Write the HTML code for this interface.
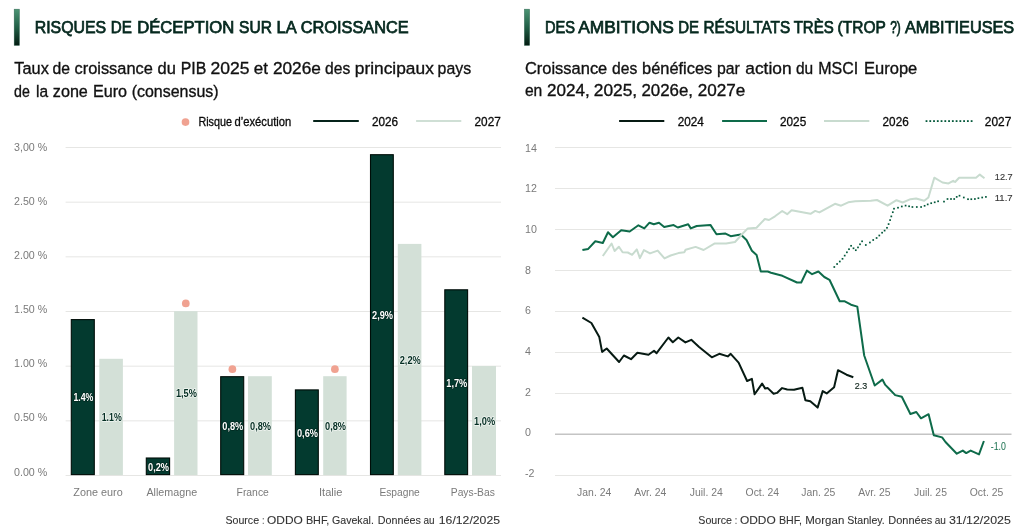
<!DOCTYPE html><html><head><meta charset="utf-8"><style>html,body{margin:0;padding:0;background:#fff;width:1024px;height:530px;overflow:hidden}svg{display:block;will-change:transform}</style></head><body><svg width="1024" height="530" viewBox="0 0 1024 530" font-family="Liberation Sans, sans-serif">
<defs><linearGradient id="g" x1="0" y1="0" x2="0" y2="1"><stop offset="0" stop-color="#4b9474"/><stop offset="0.5" stop-color="#215f46"/><stop offset="1" stop-color="#031b11"/></linearGradient></defs>
<rect width="1024" height="530" fill="#fff"/>
<rect x="14.2" y="9.2" width="5.2" height="36.2" fill="url(#g)" stroke="#0d4a34" stroke-opacity="0.6" stroke-width="0.6"/>
<rect x="524.4" y="9.2" width="5.2" height="36.2" fill="url(#g)" stroke="#0d4a34" stroke-opacity="0.6" stroke-width="0.6"/>
<text x="34.70" y="33.30" font-size="17" fill="#06291f" textLength="71.42" lengthAdjust="spacingAndGlyphs" stroke="#06291f" stroke-width="0.75">RISQUES</text>
<text x="110.80" y="33.30" font-size="17" fill="#06291f" textLength="21.11" lengthAdjust="spacingAndGlyphs" stroke="#06291f" stroke-width="0.75">DE</text>
<text x="137.20" y="33.30" font-size="17" fill="#06291f" textLength="97.18" lengthAdjust="spacingAndGlyphs" stroke="#06291f" stroke-width="0.75">DÉCEPTION</text>
<text x="239.10" y="33.30" font-size="17" fill="#06291f" textLength="32.79" lengthAdjust="spacingAndGlyphs" stroke="#06291f" stroke-width="0.75">SUR</text>
<text x="276.60" y="33.30" font-size="17" fill="#06291f" textLength="20.09" lengthAdjust="spacingAndGlyphs" stroke="#06291f" stroke-width="0.75">LA</text>
<text x="300.70" y="33.30" font-size="17" fill="#06291f" textLength="108.06" lengthAdjust="spacingAndGlyphs" stroke="#06291f" stroke-width="0.75">CROISSANCE</text>
<text x="544.90" y="33.30" font-size="17" fill="#06291f" textLength="30.10" lengthAdjust="spacingAndGlyphs" stroke="#06291f" stroke-width="0.75">DES</text>
<text x="578.20" y="33.30" font-size="17" fill="#06291f" textLength="95.61" lengthAdjust="spacingAndGlyphs" stroke="#06291f" stroke-width="0.75">AMBITIONS</text>
<text x="678.20" y="33.30" font-size="17" fill="#06291f" textLength="20.81" lengthAdjust="spacingAndGlyphs" stroke="#06291f" stroke-width="0.75">DE</text>
<text x="703.40" y="33.30" font-size="17" fill="#06291f" textLength="86.80" lengthAdjust="spacingAndGlyphs" stroke="#06291f" stroke-width="0.75">RÉSULTATS</text>
<text x="793.70" y="33.30" font-size="17" fill="#06291f" textLength="40.09" lengthAdjust="spacingAndGlyphs" stroke="#06291f" stroke-width="0.75">TRÈS</text>
<text x="837.60" y="33.30" font-size="17" fill="#06291f" textLength="48.19" lengthAdjust="spacingAndGlyphs" stroke="#06291f" stroke-width="0.75">(TROP</text>
<text x="890.20" y="33.30" font-size="17" fill="#06291f" textLength="10.61" lengthAdjust="spacingAndGlyphs" stroke="#06291f" stroke-width="0.75">?)</text>
<text x="904.90" y="33.30" font-size="17" fill="#06291f" textLength="109.30" lengthAdjust="spacingAndGlyphs" stroke="#06291f" stroke-width="0.75">AMBITIEUSES</text>
<text x="14.30" y="73.75" font-size="17.4" fill="#111" textLength="34.50" lengthAdjust="spacingAndGlyphs" stroke="#111" stroke-width="0.35">Taux</text>
<text x="52.50" y="73.75" font-size="17.4" fill="#111" textLength="17.50" lengthAdjust="spacingAndGlyphs" stroke="#111" stroke-width="0.35">de</text>
<text x="74.50" y="73.75" font-size="17.4" fill="#111" textLength="78.32" lengthAdjust="spacingAndGlyphs" stroke="#111" stroke-width="0.35">croissance</text>
<text x="157.50" y="73.75" font-size="17.4" fill="#111" textLength="18.30" lengthAdjust="spacingAndGlyphs" stroke="#111" stroke-width="0.35">du</text>
<text x="180.70" y="73.75" font-size="17.4" fill="#111" textLength="25.60" lengthAdjust="spacingAndGlyphs" stroke="#111" stroke-width="0.35">PIB</text>
<text x="210.40" y="73.75" font-size="17.4" fill="#111" textLength="39.01" lengthAdjust="spacingAndGlyphs" stroke="#111" stroke-width="0.35">2025</text>
<text x="253.80" y="73.75" font-size="17.4" fill="#111" textLength="14.21" lengthAdjust="spacingAndGlyphs" stroke="#111" stroke-width="0.35">et</text>
<text x="272.90" y="73.75" font-size="17.4" fill="#111" textLength="47.99" lengthAdjust="spacingAndGlyphs" stroke="#111" stroke-width="0.35">2026e</text>
<text x="325.00" y="73.75" font-size="17.4" fill="#111" textLength="25.20" lengthAdjust="spacingAndGlyphs" stroke="#111" stroke-width="0.35">des</text>
<text x="354.80" y="73.75" font-size="17.4" fill="#111" textLength="79.01" lengthAdjust="spacingAndGlyphs" stroke="#111" stroke-width="0.35">principaux</text>
<text x="437.60" y="73.75" font-size="17.4" fill="#111" textLength="33.50" lengthAdjust="spacingAndGlyphs" stroke="#111" stroke-width="0.35">pays</text>
<text x="14.10" y="96.50" font-size="17.4" fill="#111" textLength="15.80" lengthAdjust="spacingAndGlyphs" stroke="#111" stroke-width="0.35">de</text>
<text x="36.00" y="96.50" font-size="17.4" fill="#111" textLength="12.09" lengthAdjust="spacingAndGlyphs" stroke="#111" stroke-width="0.35">la</text>
<text x="52.80" y="96.50" font-size="17.4" fill="#111" textLength="35.08" lengthAdjust="spacingAndGlyphs" stroke="#111" stroke-width="0.35">zone</text>
<text x="93.00" y="96.50" font-size="17.4" fill="#111" textLength="34.10" lengthAdjust="spacingAndGlyphs" stroke="#111" stroke-width="0.35">Euro</text>
<text x="131.70" y="96.50" font-size="17.4" fill="#111" textLength="86.88" lengthAdjust="spacingAndGlyphs" stroke="#111" stroke-width="0.35">(consensus)</text>
<text x="524.90" y="73.50" font-size="17.4" fill="#111" textLength="82.39" lengthAdjust="spacingAndGlyphs" stroke="#111" stroke-width="0.35">Croissance</text>
<text x="612.00" y="73.50" font-size="17.4" fill="#111" textLength="25.20" lengthAdjust="spacingAndGlyphs" stroke="#111" stroke-width="0.35">des</text>
<text x="642.00" y="73.50" font-size="17.4" fill="#111" textLength="70.29" lengthAdjust="spacingAndGlyphs" stroke="#111" stroke-width="0.35">bénéfices</text>
<text x="717.00" y="73.50" font-size="17.4" fill="#111" textLength="22.90" lengthAdjust="spacingAndGlyphs" stroke="#111" stroke-width="0.35">par</text>
<text x="745.30" y="73.50" font-size="17.4" fill="#111" textLength="46.28" lengthAdjust="spacingAndGlyphs" stroke="#111" stroke-width="0.35">action</text>
<text x="796.00" y="73.50" font-size="17.4" fill="#111" textLength="17.20" lengthAdjust="spacingAndGlyphs" stroke="#111" stroke-width="0.35">du</text>
<text x="818.30" y="73.50" font-size="17.4" fill="#111" textLength="39.90" lengthAdjust="spacingAndGlyphs" stroke="#111" stroke-width="0.35">MSCI</text>
<text x="864.00" y="73.50" font-size="17.4" fill="#111" textLength="53.31" lengthAdjust="spacingAndGlyphs" stroke="#111" stroke-width="0.35">Europe</text>
<text x="524.90" y="96.30" font-size="17.4" fill="#111" textLength="17.40" lengthAdjust="spacingAndGlyphs" stroke="#111" stroke-width="0.35">en</text>
<text x="547.00" y="96.30" font-size="17.4" fill="#111" textLength="42.69" lengthAdjust="spacingAndGlyphs" stroke="#111" stroke-width="0.35">2024,</text>
<text x="593.80" y="96.30" font-size="17.4" fill="#111" textLength="43.39" lengthAdjust="spacingAndGlyphs" stroke="#111" stroke-width="0.35">2025,</text>
<text x="641.40" y="96.30" font-size="17.4" fill="#111" textLength="51.62" lengthAdjust="spacingAndGlyphs" stroke="#111" stroke-width="0.35">2026e,</text>
<text x="697.70" y="96.30" font-size="17.4" fill="#111" textLength="47.59" lengthAdjust="spacingAndGlyphs" stroke="#111" stroke-width="0.35">2027e</text>
<circle cx="185.5" cy="122.1" r="3.85" fill="#f0a291"/>
<text x="198.40" y="126.10" font-size="12.2" fill="#0a0a0a" textLength="33.48" lengthAdjust="spacingAndGlyphs" stroke="#0a0a0a" stroke-width="0.3">Risque</text>
<text x="234.50" y="126.10" font-size="12.2" fill="#0a0a0a" textLength="56.82" lengthAdjust="spacingAndGlyphs" stroke="#0a0a0a" stroke-width="0.3">d’exécution</text>
<line x1="313.2" y1="120.9" x2="358.8" y2="120.9" stroke="#05231a" stroke-width="2"/>
<text x="371.90" y="126.10" font-size="12.2" fill="#0a0a0a" textLength="26.19" lengthAdjust="spacingAndGlyphs" stroke="#0a0a0a" stroke-width="0.3">2026</text>
<line x1="416.1" y1="120.9" x2="461.3" y2="120.9" stroke="#cfdfd5" stroke-width="2"/>
<text x="474.50" y="126.10" font-size="12.2" fill="#0a0a0a" textLength="26.29" lengthAdjust="spacingAndGlyphs" stroke="#0a0a0a" stroke-width="0.3">2027</text>
<line x1="619.1" y1="120.9" x2="664.3" y2="120.9" stroke="#071a13" stroke-width="2"/>
<text x="677.80" y="126.10" font-size="12.2" fill="#0a0a0a" textLength="26.09" lengthAdjust="spacingAndGlyphs" stroke="#0a0a0a" stroke-width="0.3">2024</text>
<line x1="722.1" y1="120.9" x2="767" y2="120.9" stroke="#0e6b4a" stroke-width="2"/>
<text x="780.00" y="126.10" font-size="12.2" fill="#0a0a0a" textLength="26.19" lengthAdjust="spacingAndGlyphs" stroke="#0a0a0a" stroke-width="0.3">2025</text>
<line x1="824" y1="120.9" x2="869.3" y2="120.9" stroke="#c8dbcf" stroke-width="2"/>
<text x="882.60" y="126.10" font-size="12.2" fill="#0a0a0a" textLength="26.09" lengthAdjust="spacingAndGlyphs" stroke="#0a0a0a" stroke-width="0.3">2026</text>
<rect x="925.60" y="120.20" width="1.8" height="1.8" fill="#03583a"/>
<rect x="929.36" y="120.20" width="1.8" height="1.8" fill="#03583a"/>
<rect x="933.12" y="120.20" width="1.8" height="1.8" fill="#03583a"/>
<rect x="936.88" y="120.20" width="1.8" height="1.8" fill="#03583a"/>
<rect x="940.64" y="120.20" width="1.8" height="1.8" fill="#03583a"/>
<rect x="944.40" y="120.20" width="1.8" height="1.8" fill="#03583a"/>
<rect x="948.16" y="120.20" width="1.8" height="1.8" fill="#03583a"/>
<rect x="951.92" y="120.20" width="1.8" height="1.8" fill="#03583a"/>
<rect x="955.68" y="120.20" width="1.8" height="1.8" fill="#03583a"/>
<rect x="959.44" y="120.20" width="1.8" height="1.8" fill="#03583a"/>
<rect x="963.20" y="120.20" width="1.8" height="1.8" fill="#03583a"/>
<rect x="966.96" y="120.20" width="1.8" height="1.8" fill="#03583a"/>
<rect x="970.72" y="120.20" width="1.8" height="1.8" fill="#03583a"/>
<text x="984.80" y="126.10" font-size="12.2" fill="#0a0a0a" textLength="26.49" lengthAdjust="spacingAndGlyphs" stroke="#0a0a0a" stroke-width="0.3">2027</text>
<line x1="65.6" y1="147.50" x2="501" y2="147.50" stroke="#e6e6e4" stroke-width="1"/>
<text x="14.00" y="150.90" font-size="11.6" fill="#7a7a7a" textLength="33.21" lengthAdjust="spacingAndGlyphs">3,00 %</text>
<line x1="65.6" y1="202.17" x2="501" y2="202.17" stroke="#e6e6e4" stroke-width="1"/>
<text x="14.00" y="205.00" font-size="11.6" fill="#7a7a7a" textLength="33.21" lengthAdjust="spacingAndGlyphs">2.50 %</text>
<line x1="65.6" y1="256.84" x2="501" y2="256.84" stroke="#e6e6e4" stroke-width="1"/>
<text x="14.00" y="259.10" font-size="11.6" fill="#7a7a7a" textLength="33.21" lengthAdjust="spacingAndGlyphs">2.00 %</text>
<line x1="65.6" y1="311.51" x2="501" y2="311.51" stroke="#e6e6e4" stroke-width="1"/>
<text x="14.00" y="313.20" font-size="11.6" fill="#7a7a7a" textLength="33.21" lengthAdjust="spacingAndGlyphs">1.50 %</text>
<line x1="65.6" y1="366.18" x2="501" y2="366.18" stroke="#e6e6e4" stroke-width="1"/>
<text x="14.00" y="367.30" font-size="11.6" fill="#7a7a7a" textLength="33.21" lengthAdjust="spacingAndGlyphs">1.00 %</text>
<line x1="65.6" y1="420.85" x2="501" y2="420.85" stroke="#e6e6e4" stroke-width="1"/>
<text x="14.00" y="421.40" font-size="11.6" fill="#7a7a7a" textLength="33.21" lengthAdjust="spacingAndGlyphs">0.50 %</text>
<line x1="65.6" y1="475.52" x2="501" y2="475.52" stroke="#e6e6e4" stroke-width="1"/>
<text x="14.00" y="475.50" font-size="11.6" fill="#7a7a7a" textLength="33.21" lengthAdjust="spacingAndGlyphs">0.00 %</text>
<rect x="71.3" y="319.6" width="23.0" height="155.0" fill="#033a2f" stroke="#000d08" stroke-width="1.1"/>
<rect x="99.3" y="358.8" width="23.60000000000001" height="116.30000000000001" fill="#d3e0d7"/>
<rect x="146.3" y="458.0" width="23.299999999999983" height="16.600000000000023" fill="#033a2f" stroke="#000d08" stroke-width="1.1"/>
<rect x="174.1" y="311.2" width="23.400000000000006" height="163.90000000000003" fill="#d3e0d7"/>
<rect x="220.7" y="376.7" width="23.0" height="97.90000000000003" fill="#033a2f" stroke="#000d08" stroke-width="1.1"/>
<rect x="248" y="376.2" width="23.80000000000001" height="98.90000000000003" fill="#d3e0d7"/>
<rect x="295.4" y="389.9" width="22.900000000000034" height="84.70000000000005" fill="#033a2f" stroke="#000d08" stroke-width="1.1"/>
<rect x="323.2" y="376.2" width="23.400000000000034" height="98.90000000000003" fill="#d3e0d7"/>
<rect x="370.5" y="154.7" width="22.80000000000001" height="319.90000000000003" fill="#033a2f" stroke="#000d08" stroke-width="1.1"/>
<rect x="397.8" y="243.9" width="23.599999999999966" height="231.20000000000002" fill="#d3e0d7"/>
<rect x="444.8" y="289.8" width="22.80000000000001" height="184.8" fill="#033a2f" stroke="#000d08" stroke-width="1.1"/>
<rect x="472" y="366" width="24" height="109.10000000000002" fill="#d3e0d7"/>
<text stroke="#02281f" stroke-width="1.5" paint-order="stroke" stroke-linejoin="round" x="73.40" y="401.40" font-size="10.1" font-weight="bold" fill="#ffffff" textLength="20.02" lengthAdjust="spacingAndGlyphs">1.4%</text>
<text stroke="#f2f6f3" stroke-width="1.5" paint-order="stroke" stroke-linejoin="round" x="101.70" y="421.25" font-size="10.1" font-weight="bold" fill="#032e22" textLength="20.02" lengthAdjust="spacingAndGlyphs">1.1%</text>
<text stroke="#02281f" stroke-width="1.5" paint-order="stroke" stroke-linejoin="round" x="148.05" y="470.60" font-size="10.1" font-weight="bold" fill="#ffffff" textLength="21.02" lengthAdjust="spacingAndGlyphs">0,2%</text>
<text stroke="#f2f6f3" stroke-width="1.5" paint-order="stroke" stroke-linejoin="round" x="175.90" y="397.45" font-size="10.1" font-weight="bold" fill="#032e22" textLength="21.02" lengthAdjust="spacingAndGlyphs">1,5%</text>
<text stroke="#02281f" stroke-width="1.5" paint-order="stroke" stroke-linejoin="round" x="222.30" y="429.95" font-size="10.1" font-weight="bold" fill="#ffffff" textLength="21.02" lengthAdjust="spacingAndGlyphs">0,8%</text>
<text stroke="#f2f6f3" stroke-width="1.5" paint-order="stroke" stroke-linejoin="round" x="250.00" y="429.95" font-size="10.1" font-weight="bold" fill="#032e22" textLength="21.02" lengthAdjust="spacingAndGlyphs">0,8%</text>
<text stroke="#02281f" stroke-width="1.5" paint-order="stroke" stroke-linejoin="round" x="296.95" y="436.55" font-size="10.1" font-weight="bold" fill="#ffffff" textLength="21.02" lengthAdjust="spacingAndGlyphs">0,6%</text>
<text stroke="#f2f6f3" stroke-width="1.5" paint-order="stroke" stroke-linejoin="round" x="325.00" y="429.95" font-size="10.1" font-weight="bold" fill="#032e22" textLength="21.02" lengthAdjust="spacingAndGlyphs">0,8%</text>
<text stroke="#02281f" stroke-width="1.5" paint-order="stroke" stroke-linejoin="round" x="372.00" y="318.95" font-size="10.1" font-weight="bold" fill="#ffffff" textLength="21.02" lengthAdjust="spacingAndGlyphs">2,9%</text>
<text stroke="#f2f6f3" stroke-width="1.5" paint-order="stroke" stroke-linejoin="round" x="399.70" y="363.80" font-size="10.1" font-weight="bold" fill="#032e22" textLength="21.02" lengthAdjust="spacingAndGlyphs">2,2%</text>
<text stroke="#02281f" stroke-width="1.5" paint-order="stroke" stroke-linejoin="round" x="446.30" y="386.50" font-size="10.1" font-weight="bold" fill="#ffffff" textLength="21.02" lengthAdjust="spacingAndGlyphs">1,7%</text>
<text stroke="#f2f6f3" stroke-width="1.5" paint-order="stroke" stroke-linejoin="round" x="474.10" y="424.85" font-size="10.1" font-weight="bold" fill="#032e22" textLength="21.02" lengthAdjust="spacingAndGlyphs">1,0%</text>
<circle cx="185.8" cy="303.4" r="3.85" fill="#f0a291"/>
<circle cx="232.4" cy="369.2" r="3.85" fill="#f0a291"/>
<circle cx="334.9" cy="369.2" r="3.85" fill="#f0a291"/>
<text x="73.30" y="496.10" font-size="11.5" fill="#7a7a7a" textLength="49.38" lengthAdjust="spacingAndGlyphs">Zone euro</text>
<text x="146.45" y="496.10" font-size="11.5" fill="#7a7a7a" textLength="50.69" lengthAdjust="spacingAndGlyphs">Allemagne</text>
<text x="236.55" y="496.10" font-size="11.5" fill="#7a7a7a" textLength="32.29" lengthAdjust="spacingAndGlyphs">France</text>
<text x="319.00" y="496.10" font-size="11.5" fill="#7a7a7a" textLength="23.39" lengthAdjust="spacingAndGlyphs">Italie</text>
<text x="379.40" y="496.10" font-size="11.5" fill="#7a7a7a" textLength="40.40" lengthAdjust="spacingAndGlyphs">Espagne</text>
<text x="450.80" y="496.10" font-size="11.5" fill="#7a7a7a" textLength="44.01" lengthAdjust="spacingAndGlyphs">Pays-Bas</text>
<text x="225.40" y="523.70" font-size="11.6" fill="#333" textLength="33.71" lengthAdjust="spacingAndGlyphs" stroke="#333" stroke-width="0.1">Source</text>
<text x="262.20" y="523.70" font-size="11.6" fill="#333" textLength="1.91" lengthAdjust="spacingAndGlyphs" stroke="#333" stroke-width="0.1">:</text>
<text x="267.10" y="523.70" font-size="11.6" fill="#333" textLength="35.70" lengthAdjust="spacingAndGlyphs" stroke="#333" stroke-width="0.1">ODDO</text>
<text x="305.90" y="523.70" font-size="11.6" fill="#333" textLength="23.39" lengthAdjust="spacingAndGlyphs" stroke="#333" stroke-width="0.1">BHF,</text>
<text x="332.00" y="523.70" font-size="11.6" fill="#333" textLength="41.88" lengthAdjust="spacingAndGlyphs" stroke="#333" stroke-width="0.1">Gavekal.</text>
<text x="377.80" y="523.70" font-size="11.6" fill="#333" textLength="42.99" lengthAdjust="spacingAndGlyphs" stroke="#333" stroke-width="0.1">Données</text>
<text x="423.50" y="523.70" font-size="11.6" fill="#333" textLength="11.10" lengthAdjust="spacingAndGlyphs" stroke="#333" stroke-width="0.1">au</text>
<text x="438.80" y="523.70" font-size="11.6" fill="#333" textLength="61.21" lengthAdjust="spacingAndGlyphs" stroke="#333" stroke-width="0.1">16/12/2025</text>
<line x1="555" y1="147.5" x2="1011.5" y2="147.5" stroke="#e6e6e4" stroke-width="1"/>
<text x="525.00" y="151.60" font-size="11.6" fill="#7a7a7a" textLength="11.87" lengthAdjust="spacingAndGlyphs">14</text>
<line x1="555" y1="188.5" x2="1011.5" y2="188.5" stroke="#e6e6e4" stroke-width="1"/>
<text x="525.00" y="192.26" font-size="11.6" fill="#7a7a7a" textLength="11.87" lengthAdjust="spacingAndGlyphs">12</text>
<line x1="555" y1="229.5" x2="1011.5" y2="229.5" stroke="#e6e6e4" stroke-width="1"/>
<text x="525.00" y="232.92" font-size="11.6" fill="#7a7a7a" textLength="11.87" lengthAdjust="spacingAndGlyphs">10</text>
<line x1="555" y1="270.5" x2="1011.5" y2="270.5" stroke="#e6e6e4" stroke-width="1"/>
<text x="525.00" y="273.58" font-size="11.6" fill="#7a7a7a" textLength="5.94" lengthAdjust="spacingAndGlyphs">8</text>
<line x1="555" y1="311.5" x2="1011.5" y2="311.5" stroke="#e6e6e4" stroke-width="1"/>
<text x="525.00" y="314.24" font-size="11.6" fill="#7a7a7a" textLength="5.94" lengthAdjust="spacingAndGlyphs">6</text>
<line x1="555" y1="352.5" x2="1011.5" y2="352.5" stroke="#e6e6e4" stroke-width="1"/>
<text x="525.00" y="354.90" font-size="11.6" fill="#7a7a7a" textLength="5.94" lengthAdjust="spacingAndGlyphs">4</text>
<line x1="555" y1="393.5" x2="1011.5" y2="393.5" stroke="#e6e6e4" stroke-width="1"/>
<text x="525.00" y="395.56" font-size="11.6" fill="#7a7a7a" textLength="5.94" lengthAdjust="spacingAndGlyphs">2</text>
<line x1="555" y1="434.2" x2="1011.5" y2="434.2" stroke="#c4c4c4" stroke-width="1.6"/>
<text x="525.00" y="436.22" font-size="11.6" fill="#7a7a7a" textLength="5.94" lengthAdjust="spacingAndGlyphs">0</text>
<line x1="555" y1="475.5" x2="1011.5" y2="475.5" stroke="#e6e6e4" stroke-width="1"/>
<text x="525.00" y="476.88" font-size="11.6" fill="#7a7a7a" textLength="9.49" lengthAdjust="spacingAndGlyphs">-2</text>
<text x="577.12" y="495.50" font-size="11.5" fill="#7a7a7a" textLength="34.14" lengthAdjust="spacingAndGlyphs">Jan. 24</text>
<text x="634.13" y="495.50" font-size="11.5" fill="#7a7a7a" textLength="32.21" lengthAdjust="spacingAndGlyphs">Avr. 24</text>
<text x="689.79" y="495.50" font-size="11.5" fill="#7a7a7a" textLength="32.98" lengthAdjust="spacingAndGlyphs">Juil. 24</text>
<text x="745.55" y="495.50" font-size="11.5" fill="#7a7a7a" textLength="33.55" lengthAdjust="spacingAndGlyphs">Oct. 24</text>
<text x="801.28" y="495.50" font-size="11.5" fill="#7a7a7a" textLength="34.14" lengthAdjust="spacingAndGlyphs">Jan. 25</text>
<text x="858.29" y="495.50" font-size="11.5" fill="#7a7a7a" textLength="32.21" lengthAdjust="spacingAndGlyphs">Avr. 25</text>
<text x="913.95" y="495.50" font-size="11.5" fill="#7a7a7a" textLength="32.98" lengthAdjust="spacingAndGlyphs">Juil. 25</text>
<text x="969.71" y="495.50" font-size="11.5" fill="#7a7a7a" textLength="33.55" lengthAdjust="spacingAndGlyphs">Oct. 25</text>
<text x="698.30" y="523.70" font-size="11.6" fill="#333" textLength="33.71" lengthAdjust="spacingAndGlyphs" stroke="#333" stroke-width="0.1">Source</text>
<text x="735.10" y="523.70" font-size="11.6" fill="#333" textLength="2.01" lengthAdjust="spacingAndGlyphs" stroke="#333" stroke-width="0.1">:</text>
<text x="740.00" y="523.70" font-size="11.6" fill="#333" textLength="35.70" lengthAdjust="spacingAndGlyphs" stroke="#333" stroke-width="0.1">ODDO</text>
<text x="778.90" y="523.70" font-size="11.6" fill="#333" textLength="22.99" lengthAdjust="spacingAndGlyphs" stroke="#333" stroke-width="0.1">BHF,</text>
<text x="805.30" y="523.70" font-size="11.6" fill="#333" textLength="38.98" lengthAdjust="spacingAndGlyphs" stroke="#333" stroke-width="0.1">Morgan</text>
<text x="847.30" y="523.70" font-size="11.6" fill="#333" textLength="37.40" lengthAdjust="spacingAndGlyphs" stroke="#333" stroke-width="0.1">Stanley.</text>
<text x="888.30" y="523.70" font-size="11.6" fill="#333" textLength="43.99" lengthAdjust="spacingAndGlyphs" stroke="#333" stroke-width="0.1">Données</text>
<text x="934.70" y="523.70" font-size="11.6" fill="#333" textLength="11.20" lengthAdjust="spacingAndGlyphs" stroke="#333" stroke-width="0.1">au</text>
<text x="948.90" y="523.70" font-size="11.6" fill="#333" textLength="61.91" lengthAdjust="spacingAndGlyphs" stroke="#333" stroke-width="0.1">31/12/2025</text>
<polyline points="582.4,317.7 591.4,323.0 599.3,337.1 602.1,351.9 606.7,348.5 619.1,362.0 623.9,355.5 631.0,359.2 637.4,352.8 648.5,354.7 654.0,350.7 656.6,353.2 668.4,337.5 672.8,342.2 678.3,337.5 685.4,342.4 691.3,339.8 699.1,346.9 711.8,357.3 719.3,353.8 727.8,356.4 730.7,353.8 738.6,362.6 747.1,381.0 751.9,378.8 754.6,394.3 762.1,383.6 765.2,388.6 767.8,388.1 773.6,393.7 777.0,392.9 782.1,388.1 787.2,389.5 794.0,389.8 802.4,387.7 805.4,400.2 810.3,401.3 817.6,407.6 822.7,391.1 826.7,393.4 834.1,387.2 838.0,370.2 846.5,374.7 853.3,377.2" fill="none" stroke="#071a13" stroke-width="2" stroke-linejoin="round"/>
<polyline points="582.4,250.1 588.2,248.9 595.3,241.3 602.8,243.0 608.0,232.2 612.9,237.2 621.2,230.3 629.7,231.5 638.4,225.3 644.3,228.4 649.5,222.7 653.8,224.2 659.0,222.7 664.2,227.0 673.6,225.1 677.8,227.5 688.2,224.3 690.8,228.4 696.7,226.0 710.4,224.9 716.5,234.3 725.5,233.6 730.7,236.2 740.7,234.5 742.6,236.3 746.5,240.0 751.9,250.7 756.6,255.1 760.8,271.5 767.7,271.5 771.0,272.7 782.4,275.8 797.0,282.5 801.2,282.5 806.9,270.6 812.1,274.2 818.4,271.5 824.3,277.0 829.5,279.8 839.7,301.3 844.8,301.3 851.0,304.7 857.3,306.6 864.2,355.5 874.7,385.5 882.4,379.6 885.3,384.9 888.6,388.2 895.2,395.1 901.8,396.8 910.4,414.0 916.3,412.0 921.0,418.3 928.6,414.2 933.8,435.2 942.1,437.4 945.5,442.0 956.8,453.7 962.8,450.6 966.2,453.1 970.7,450.6 979.0,454.4 983.9,441.0" fill="none" stroke="#0e6b4a" stroke-width="2" stroke-linejoin="round"/>
<polyline points="602.8,256.0 611.6,243.5 614.6,251.0 618.9,246.8 622.6,252.3 627.8,252.5 632.1,254.8 636.8,249.4 639.9,258.1 643.9,250.1 650.0,253.4 657.7,250.6 664.5,258.4 670.6,255.5 678.4,253.1 684.3,252.3 685.6,249.7 695.6,246.9 703.6,250.0 714.8,243.4 726.1,243.6 735.0,242.0 741.8,234.5 747.8,228.4 756.5,227.7 764.8,219.0 769.0,220.0 775.0,216.3 782.2,211.0 787.2,214.2 791.6,210.3 810.5,213.8 815.2,210.9 819.4,212.4 835.0,203.8 841.1,205.7 848.2,202.3 855.3,201.3 870.8,200.7 877.0,200.0 887.6,205.7 896.5,200.2 902.7,202.5 910.5,199.2 916.1,198.5 924.2,200.8 928.4,197.5 934.3,177.7 942.5,182.5 948.5,183.4 953.2,180.8 955.1,182.0 959.1,177.7 976.0,177.7 979.8,174.6 984.5,178.2" fill="none" stroke="#c8dbcf" stroke-width="2" stroke-linejoin="round"/>
<rect x="833.45" y="266.15" width="1.7" height="1.7" fill="#03583a"/>
<rect x="836.25" y="263.15" width="1.7" height="1.7" fill="#03583a"/>
<rect x="838.95" y="260.65" width="1.7" height="1.7" fill="#03583a"/>
<rect x="841.65" y="257.95" width="1.7" height="1.7" fill="#03583a"/>
<rect x="843.85" y="254.75" width="1.7" height="1.7" fill="#03583a"/>
<rect x="846.05" y="251.45" width="1.7" height="1.7" fill="#03583a"/>
<rect x="848.15" y="248.35" width="1.7" height="1.7" fill="#03583a"/>
<rect x="850.25" y="244.95" width="1.7" height="1.7" fill="#03583a"/>
<rect x="852.65" y="247.45" width="1.7" height="1.7" fill="#03583a"/>
<rect x="854.95" y="249.35" width="1.7" height="1.7" fill="#03583a"/>
<rect x="857.15" y="246.55" width="1.7" height="1.7" fill="#03583a"/>
<rect x="859.15" y="243.45" width="1.7" height="1.7" fill="#03583a"/>
<rect x="861.25" y="240.45" width="1.7" height="1.7" fill="#03583a"/>
<rect x="864.95" y="244.15" width="1.7" height="1.7" fill="#03583a"/>
<rect x="869.05" y="241.65" width="1.7" height="1.7" fill="#03583a"/>
<rect x="872.35" y="239.15" width="1.7" height="1.7" fill="#03583a"/>
<rect x="875.75" y="237.15" width="1.7" height="1.7" fill="#03583a"/>
<rect x="878.45" y="234.65" width="1.7" height="1.7" fill="#03583a"/>
<rect x="881.25" y="231.85" width="1.7" height="1.7" fill="#03583a"/>
<rect x="883.75" y="229.75" width="1.7" height="1.7" fill="#03583a"/>
<rect x="886.15" y="226.95" width="1.7" height="1.7" fill="#03583a"/>
<rect x="887.75" y="223.25" width="1.7" height="1.7" fill="#03583a"/>
<rect x="889.25" y="219.25" width="1.7" height="1.7" fill="#03583a"/>
<rect x="890.45" y="215.55" width="1.7" height="1.7" fill="#03583a"/>
<rect x="891.95" y="211.35" width="1.7" height="1.7" fill="#03583a"/>
<rect x="893.15" y="207.85" width="1.7" height="1.7" fill="#03583a"/>
<rect x="897.15" y="206.85" width="1.7" height="1.7" fill="#03583a"/>
<rect x="900.95" y="205.65" width="1.7" height="1.7" fill="#03583a"/>
<rect x="904.75" y="204.75" width="1.7" height="1.7" fill="#03583a"/>
<rect x="908.25" y="205.45" width="1.7" height="1.7" fill="#03583a"/>
<rect x="911.55" y="206.15" width="1.7" height="1.7" fill="#03583a"/>
<rect x="915.95" y="206.15" width="1.7" height="1.7" fill="#03583a"/>
<rect x="920.25" y="206.15" width="1.7" height="1.7" fill="#03583a"/>
<rect x="923.75" y="204.95" width="1.7" height="1.7" fill="#03583a"/>
<rect x="926.85" y="203.55" width="1.7" height="1.7" fill="#03583a"/>
<rect x="930.35" y="202.35" width="1.7" height="1.7" fill="#03583a"/>
<rect x="933.85" y="201.45" width="1.7" height="1.7" fill="#03583a"/>
<rect x="937.25" y="200.45" width="1.7" height="1.7" fill="#03583a"/>
<rect x="943.15" y="200.75" width="1.7" height="1.7" fill="#03583a"/>
<rect x="946.65" y="198.15" width="1.7" height="1.7" fill="#03583a"/>
<rect x="950.15" y="198.15" width="1.7" height="1.7" fill="#03583a"/>
<rect x="953.35" y="198.15" width="1.7" height="1.7" fill="#03583a"/>
<rect x="955.85" y="196.05" width="1.7" height="1.7" fill="#03583a"/>
<rect x="958.65" y="194.85" width="1.7" height="1.7" fill="#03583a"/>
<rect x="962.95" y="196.65" width="1.7" height="1.7" fill="#03583a"/>
<rect x="967.15" y="198.35" width="1.7" height="1.7" fill="#03583a"/>
<rect x="970.45" y="198.35" width="1.7" height="1.7" fill="#03583a"/>
<rect x="974.05" y="198.15" width="1.7" height="1.7" fill="#03583a"/>
<rect x="977.55" y="197.35" width="1.7" height="1.7" fill="#03583a"/>
<rect x="981.35" y="196.65" width="1.7" height="1.7" fill="#03583a"/>
<rect x="985.05" y="196.05" width="1.7" height="1.7" fill="#03583a"/>
<text x="854.80" y="388.80" font-size="9.6" fill="#10261e" textLength="12.40" lengthAdjust="spacingAndGlyphs" stroke="#10261e" stroke-width="0.15">2.3</text>
<text x="990.80" y="449.90" font-size="10" fill="#1e7352" textLength="15.08" lengthAdjust="spacingAndGlyphs" stroke="#1e7352" stroke-width="0.05">-1.0</text>
<text x="994.80" y="180.30" font-size="9.5" fill="#3a3a3a" textLength="17.79" lengthAdjust="spacingAndGlyphs" stroke="#3a3a3a" stroke-width="0.15">12.7</text>
<text x="994.80" y="201.40" font-size="9.5" fill="#3a3a3a" textLength="17.79" lengthAdjust="spacingAndGlyphs" stroke="#3a3a3a" stroke-width="0.15">11.7</text>
</svg></body></html>
